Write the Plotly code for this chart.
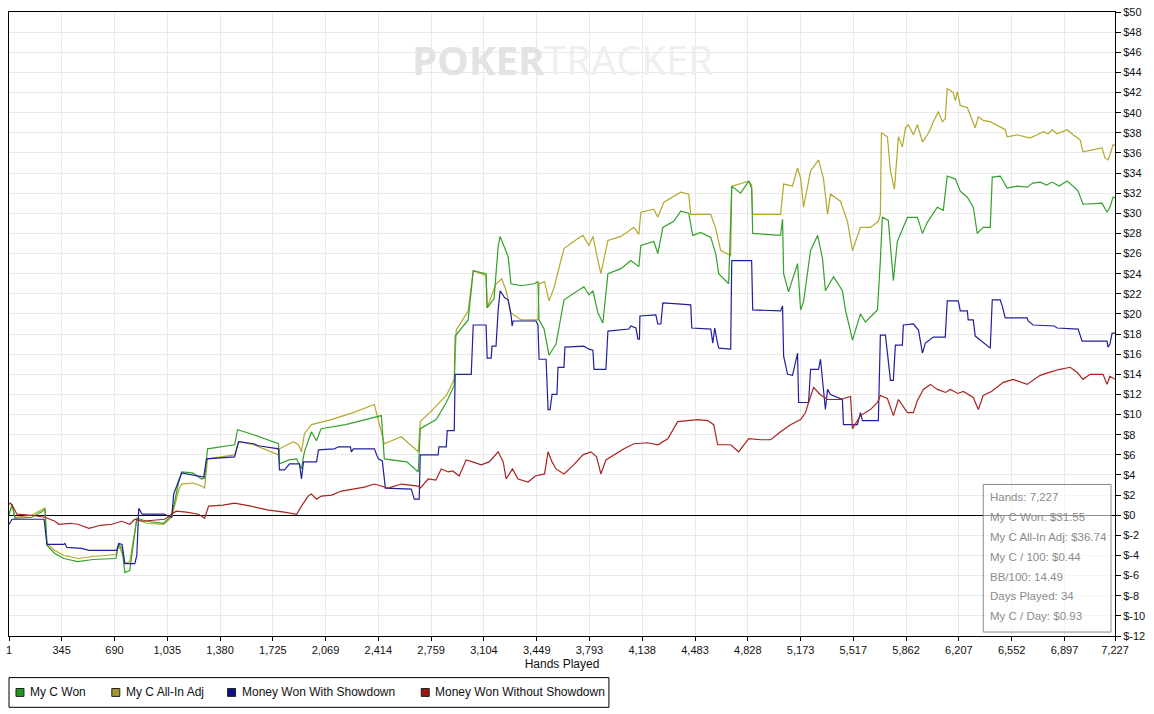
import plotly.graph_objects as go

# cumulative winnings (dollars) against hands played

won_hands = [1, 21, 40, 150, 220, 236, 249, 300, 360, 450,
             550, 700, 718, 740, 758, 790, 836, 900, 1012, 1064,
             1110, 1129, 1200, 1260, 1279, 1298, 1475, 1494, 1600, 1762,
             1768, 1830, 1880,
             1912, 1931, 1977, 2010, 2040, 2200, 2434, 2453, 2600, 2675,
             2688, 2792,
             2858, 2910, 2916, 3001, 3034, 3118, 3125, 3170, 3197, 3210,
             3262, 3281, 3347, 3431, 3457, 3464, 3497, 3529, 3575, 3627,
             3718, 3757, 3790, 3816, 3849, 3881, 3914, 3999, 4064, 4116,
             4129, 4214, 4240, 4273, 4344, 4390, 4442, 4468, 4520, 4586,
             4618, 4638, 4703, 4723, 4781, 4834, 4853, 4860, 5042, 5055,
             5062, 5094, 5153, 5173, 5192, 5238, 5284, 5316, 5335, 5388,
             5446, 5466, 5512, 5564, 5596, 5675, 5694, 5707, 5746, 5779,
             5805, 5871, 5936, 5969, 6001, 6066, 6105, 6131, 6184, 6216,
             6262, 6301, 6327, 6366, 6412, 6425, 6477, 6523, 6588, 6653,
             6690, 6738, 6780, 6817, 6862, 6914, 6953, 6986,
             7018, 7142, 7175, 7194, 7214, 7227]
won_vals = [0.0, 1.1, -0.3, -0.2, 0.4, 0.6, -3.0, -3.8, -4.3, -4.6,
            -4.4, -4.3, -2.8, -3.4, -5.7, -5.5, -0.3, -0.6, -0.8, 0.0,
            3.3, 4.3, 4.2, 3.6, 3.7, 6.6, 7.0, 8.5, 8.0, 7.1,
            5.1, 5.5, 5.6,
            4.6, 6.3, 8.3, 7.4, 8.6, 9.0, 9.9, 5.6, 5.3, 4.3,
            8.6, 9.5,
            11.2, 12.9, 17.8, 19.4, 24.3, 24.0, 20.6, 21.5, 26.7, 27.7,
            25.7, 23.0, 22.8, 23.0, 23.2, 19.4, 18.5, 15.9, 17.0, 21.4,
            22.3, 22.7, 21.9, 22.3, 20.1, 19.1, 24.0, 24.5, 25.3, 24.7,
            26.8, 27.2, 26.0, 28.6, 29.2, 30.2, 30.0, 27.8, 28.1, 27.6,
            26.0, 24.0, 23.0, 32.7, 32.0, 33.2, 32.5, 28.0, 27.8, 29.4,
            24.0, 22.2, 25.0, 20.4, 21.2, 26.3, 27.8, 25.5, 22.3, 23.7,
            22.3, 20.4, 17.4, 20.0, 19.2, 20.4, 25.3, 29.6, 29.3, 23.3,
            27.2, 29.6, 29.6, 28.0, 29.1, 30.6, 30.3, 33.7, 33.4, 32.2,
            31.6, 30.6, 28.0, 28.6, 28.6, 33.6, 33.7, 32.5, 32.7, 32.6,
            33.0, 33.1, 32.8, 33.1, 32.7, 33.2, 32.7, 32.2,
            30.9, 31.0, 30.1, 30.6, 31.6, 31.55]

adj_hands = [1, 21, 40, 150, 220, 236, 249, 300, 360, 450,
             550, 700, 718, 740, 758, 790, 836, 900, 1012, 1064,
             1110, 1129, 1200, 1260, 1279, 1298, 1475, 1501, 1600, 1762,
             1768, 1860, 1892,
             1912, 1931, 1977, 2107, 2250, 2388, 2453, 2564, 2675, 2688,
             2750,
             2858, 2910, 2923, 3001, 3034, 3118, 3125, 3183, 3220, 3249,
             3281, 3347, 3457, 3464, 3500, 3529, 3560, 3588, 3627, 3718,
             3751, 3790, 3816, 3849, 3868, 3914, 3999, 4084, 4116, 4129,
             4214, 4240, 4279, 4390, 4442, 4455, 4586, 4618, 4651, 4716,
             4723, 4834, 4853, 4860, 5042, 5062, 5120, 5153, 5173, 5192,
             5238, 5290, 5322, 5349, 5368, 5433, 5479, 5512, 5564, 5629,
             5681, 5694, 5701, 5740, 5760, 5786, 5812, 5838, 5858, 5877,
             5910, 5936, 5969, 6010, 6040, 6073, 6099, 6118, 6131, 6170,
             6184, 6197, 6216, 6262, 6314, 6334, 6370, 6412, 6477, 6510,
             6523, 6588, 6640, 6673, 6719, 6758, 6790, 6817, 6849, 6914,
             6953, 6999, 7018,
             7142, 7162, 7181, 7194, 7214, 7227]
adj_vals = [0.3, 0.9, -0.2, 0.0, 0.6, 0.7, -2.8, -3.5, -4.0, -4.3,
            -4.1, -3.9, -3.0, -3.8, -4.8, -4.6, -0.4, -0.8, -0.9, -0.2,
            2.5, 3.1, 3.2, 2.9, 2.7, 5.6, 6.0, 7.3, 7.0, 6.0,
            6.6, 7.3, 7.0,
            6.3, 8.1, 9.0, 9.5, 10.2, 11.0, 7.1, 7.8, 6.3, 9.3,
            10.2,
            11.9, 13.5, 18.4, 20.3, 24.3, 23.8, 20.6, 23.0, 23.5, 22.3,
            20.1, 19.4, 19.4, 23.0, 23.2, 21.3, 22.5, 24.3, 26.5, 27.5,
            27.8, 26.8, 27.7, 25.3, 24.0, 27.3, 27.7, 28.6, 27.9, 30.1,
            30.4, 29.6, 31.1, 32.1, 31.9, 29.9, 29.9, 28.5, 26.3, 25.8,
            32.7, 33.2, 32.8, 29.9, 29.9, 32.9, 32.7, 34.5, 33.5, 30.6,
            34.2, 35.3, 33.5, 29.9, 31.9, 31.2, 29.2, 26.3, 28.6, 28.6,
            29.2, 29.9, 38.0, 37.6, 34.2, 32.4, 37.6, 36.6, 38.5, 38.8,
            37.8, 38.8, 37.1, 38.0, 39.1, 40.1, 39.1, 39.4, 42.4, 42.0,
            41.2, 42.1, 40.7, 40.5, 38.5, 39.6, 39.2, 39.1, 38.6, 38.3,
            37.6, 37.8, 37.6, 37.5, 37.8, 38.1, 37.9, 38.3, 37.9, 38.3,
            37.8, 37.3, 36.1,
            36.5, 35.5, 35.3, 35.8, 36.8, 36.74]

sd_hands = [1, 21, 230, 249, 360, 366, 380, 477, 523, 705,
            718, 740, 758, 823, 836, 849, 870, 1012, 1064, 1077,
            1129, 1260, 1273, 1292, 1475, 1501, 1600, 1631, 1762, 1768,
            1801, 1834, 1899, 1912, 1925, 2010, 2023, 2127, 2153, 2232,
            2238, 2251, 2388, 2414, 2440, 2460, 2629, 2649, 2681, 2688,
            2805, 2810, 2858, 2864, 2910, 2916, 3021, 3034, 3118, 3125,
            3151, 3157, 3183, 3197, 3210, 3240, 3262, 3282, 3288, 3295,
            3444, 3457, 3464, 3510, 3523, 3536, 3549, 3581, 3588, 3627,
            3633, 3757, 3790, 3816, 3823, 3901, 3914, 4051, 4064, 4097,
            4110, 4120, 4123, 4227, 4240, 4260, 4273, 4370, 4455, 4462,
            4586, 4599, 4612, 4625, 4638, 4716, 4723, 4853, 4860, 5042,
            5055, 5062, 5088, 5120, 5153, 5160, 5225, 5238, 5290, 5303,
            5316, 5335, 5349, 5368, 5446, 5453, 5544, 5564, 5577, 5681,
            5694, 5727, 5760, 5779, 5792, 5838, 5844, 5910, 5943, 5969,
            5988, 6040, 6118, 6131, 6203, 6216, 6262, 6268, 6301, 6314,
            6412, 6425, 6477, 6490, 6510, 6653, 6660, 6692, 6830, 6849,
            6986, 7012, 7175, 7181, 7194, 7208, 7227]
sd_vals = [-0.9, -0.4, -0.4, -2.9, -2.9, -2.8, -3.2, -3.3, -3.5, -3.5,
           -2.8, -2.9, -4.8, -4.8, -4.0, 0.7, 0.1, 0.1, -0.2, 2.1,
           4.2, 3.8, 3.8, 5.6, 5.8, 7.3, 7.1, 6.9, 6.6, 4.5,
           4.5, 5.1, 5.1, 3.6, 5.3, 5.3, 6.5, 6.6, 6.8, 6.8,
           6.3, 6.6, 6.6, 5.6, 5.4, 2.7, 2.6, 1.6, 1.6, 6.0,
           6.0, 6.8, 6.8, 8.4, 8.4, 14.0, 14.0, 18.9, 18.9, 15.6,
           15.6, 16.8, 16.8, 20.4, 22.3, 21.6, 21.4, 19.8, 18.8, 19.3,
           19.3, 18.9, 15.5, 15.5, 10.5, 10.5, 12.0, 12.0, 14.7, 14.7,
           16.7, 16.8, 16.5, 16.4, 14.5, 14.5, 18.3, 18.5, 18.8, 18.6,
           17.5, 17.5, 19.8, 19.9, 19.0, 19.0, 21.1, 21.0, 20.9, 18.6,
           18.5, 17.1, 18.6, 17.5, 16.6, 16.5, 25.3, 25.3, 20.4, 20.3,
           20.8, 15.8, 14.0, 13.9, 16.1, 11.2, 11.2, 14.5, 14.5, 15.5,
           13.2, 10.5, 12.5, 12.0, 11.5, 9.0, 9.0, 10.2, 9.4, 9.4,
           17.9, 17.9, 13.4, 13.4, 16.9, 16.9, 18.9, 19.0, 18.4, 16.1,
           17.1, 17.7, 17.7, 21.3, 21.3, 20.3, 20.3, 19.4, 19.4, 17.8,
           16.6, 21.4, 21.4, 20.8, 19.6, 19.6, 19.3, 18.9, 18.8, 18.6,
           18.5, 17.3, 17.3, 16.7, 17.0, 18.1, 18.1]

nosd_hands = [1, 10, 21, 53, 150, 236, 301, 327, 400, 450,
              523, 600, 673, 738, 790, 823, 868, 950, 1018, 1064,
              1093, 1160, 1214, 1240, 1279, 1305, 1400, 1475, 1580, 1697,
              1800, 1880, 1912, 1955, 1977, 2010, 2042, 2110, 2173, 2250,
              2323,
              2388, 2479, 2564, 2675, 2688, 2740, 2790, 2825, 2870, 2900,
              2942, 2988, 3030, 3086, 3138, 3197, 3230, 3249, 3290, 3327,
              3392, 3440, 3500, 3523, 3549, 3575, 3627, 3690, 3751, 3803,
              3840, 3868, 3901, 3953, 4019, 4084, 4175, 4240, 4305, 4370,
              4436, 4501, 4566, 4605, 4631, 4716, 4768, 4834, 4912, 4977,
              5042, 5107, 5173, 5205, 5225, 5258, 5300, 5349, 5433, 5499,
              5512, 5564, 5629, 5675, 5694, 5740, 5779, 5812, 5871, 5910,
              5936, 5975, 6021, 6066, 6120, 6151, 6200, 6236, 6301, 6334,
              6366, 6420, 6497, 6562, 6653, 6738, 6797, 6868, 6934, 6979,
              7018, 7064, 7149, 7175, 7194, 7227]
nosd_vals = [1.1, 1.2, 1.0, 0.1, 0.0, -0.2, -0.6, -0.9, -0.8, -0.9,
             -1.3, -1.0, -0.9, -0.6, -0.9, -0.4, -0.6, -0.5, -0.4, 0.1,
             0.4, 0.3, 0.2, 0.1, -0.3, 0.9, 1.0, 1.2, 0.9, 0.5,
             0.3, 0.1, 0.9, 1.9, 2.1, 1.6, 1.9, 2.0, 2.4, 2.6,
             2.8,
             3.1, 2.7, 3.1, 2.9, 2.7, 3.6, 3.5, 4.6, 4.3, 4.4,
             3.9, 5.5, 5.3, 5.0, 5.3, 6.3, 5.3, 3.6, 4.6, 3.6,
             3.3, 3.9, 4.1, 6.3, 5.3, 4.6, 4.1, 5.0, 6.0, 6.3,
             5.8, 4.1, 5.5, 6.0, 6.6, 7.1, 7.2, 7.0, 7.6, 9.3,
             9.4, 9.5, 9.4, 9.0, 7.0, 7.0, 6.3, 7.6, 7.5, 7.5,
             8.3, 9.0, 9.5, 10.2, 11.2, 12.7, 12.0, 11.5, 11.5, 11.8,
             8.6, 9.9, 10.5, 11.2, 11.9, 11.6, 9.9, 11.5, 10.2, 10.2,
             11.4, 12.5, 13.0, 12.5, 12.2, 12.5, 12.1, 12.3, 11.7, 10.5,
             11.9, 12.3, 13.2, 13.5, 13.0, 13.9, 14.2, 14.5, 14.7, 14.2,
             13.5, 14.0, 14.0, 13.0, 13.8, 13.5]

series_names = ["My C Won", "My C All-In Adj",
                "Money Won With Showdown", "Money Won Without Showdown"]
line_colors = ["#33a12b", "#b3a82c", "#20209a", "#a8231f"]
swatch_colors = ["#1f9a1f", "#a19a2a", "#10108f", "#9a1414"]

x_ticks = [1, 345, 690, 1035, 1380, 1725, 2069, 2414, 2759, 3104, 3449,
           3793, 4138, 4483, 4828, 5173, 5517, 5862, 6207, 6552, 6897, 7227]
y_ticks = list(range(-12, 51, 2))

stats_lines = ["Hands: 7,227", "My C Won: $31.55", "My C All-In Adj: $36.74",
               "My C / 100: $0.44", "BB/100: 14.49", "Days Played: 34",
               "My C / Day: $0.93"]

assert len(won_hands) == len(won_vals)
assert len(adj_hands) == len(adj_vals)
assert len(sd_hands) == len(sd_vals)
assert len(nosd_hands) == len(nosd_vals)

W, H = 1154, 714
L, R, T, B = 7, 39, 6, 78
PW, PH = W - L - R, H - T - B


def px(x):
    # page pixel -> paper x
    return (x - L) / PW


def py(y):
    # page pixel -> paper y
    return (H - B - y) / PH


fig = go.Figure()

draw_order = [(adj_hands, adj_vals, 1), (won_hands, won_vals, 0),
              (sd_hands, sd_vals, 2), (nosd_hands, nosd_vals, 3)]
for hx, vy, i in draw_order:
    fig.add_trace(go.Scatter(x=hx, y=vy, mode="lines", name=series_names[i],
                             line=dict(color=line_colors[i], width=1.2),
                             showlegend=False, hoverinfo="skip"))

shapes = []
annotations = []

# custom legend below the plot
shapes.append(dict(type="rect", xref="paper", yref="paper",
                   x0=px(7), x1=px(608), y0=py(708), y1=py(678),
                   line=dict(color="black", width=1), fillcolor="white"))
swatch_x = [14, 110, 226, 420]
for i, sx in enumerate(swatch_x):
    shapes.append(dict(type="rect", xref="paper", yref="paper",
                       x0=px(sx), x1=px(sx + 8), y0=py(697), y1=py(689),
                       line=dict(color="#222222", width=1),
                       fillcolor=swatch_colors[i]))
    annotations.append(dict(text=series_names[i], xref="paper", yref="paper",
                            x=px(sx + 12), y=py(693), xanchor="left",
                            yanchor="middle", showarrow=False,
                            font=dict(size=12, color="#111111")))

# stats box
shapes.append(dict(type="rect", xref="paper", yref="paper",
                   x0=px(983), x1=px(1111), y0=py(632), y1=py(483),
                   line=dict(color="#8a8a8a", width=1),
                   fillcolor="rgba(255,255,255,0.55)"))
for k, s in enumerate(stats_lines):
    annotations.append(dict(text=s, xref="paper", yref="paper",
                            x=px(988), y=py(496 + 20 * k), xanchor="left",
                            yanchor="middle", showarrow=False,
                            font=dict(size=11.5, color="#8c8c8c")))

# watermark
annotations.append(dict(
    text="<b><span style='color:#e3e3e3'>POKER</span></b>"
         "<span style='color:#efefef'>TRACKER</span>",
    xref="paper", yref="paper", x=px(562), y=py(54), xanchor="center",
    yanchor="middle", showarrow=False,
    font=dict(size=40, family="Open Sans, Liberation Sans")))

fig.update_layout(
    width=W, height=H,
    margin=dict(l=L, r=R, t=T, b=B),
    paper_bgcolor="white", plot_bgcolor="white",
    font=dict(family="Liberation Sans, Arial, sans-serif", size=11,
              color="#111111"),
    shapes=shapes, annotations=annotations,
    showlegend=False,
)
fig.update_xaxes(range=[1, 7227], tickvals=x_ticks,
                 ticktext=[f"{v:,}" for v in x_ticks],
                 showgrid=True, gridcolor="#e9e9e9", gridwidth=1,
                 showline=True, linecolor="black", linewidth=1, mirror=True,
                 ticks="outside", ticklen=4, tickcolor="black",
                 zeroline=False,
                 title=dict(text="Hands Played", standoff=4,
                            font=dict(size=12)))
fig.update_yaxes(range=[-12, 50], side="right", tickvals=y_ticks,
                 ticktext=[f"${v}" for v in y_ticks],
                 showgrid=True, gridcolor="#e9e9e9", gridwidth=1,
                 showline=True, linecolor="black", linewidth=1, mirror=True,
                 ticks="outside", ticklen=5, tickcolor="black",
                 zeroline=True, zerolinecolor="black", zerolinewidth=1)

# the page body has a default 8px margin; drop it so the figure sits at 0,0
fig.write_html("out.html", config={"displayModeBar": False},
               post_script="document.body.style.margin='0px';")
